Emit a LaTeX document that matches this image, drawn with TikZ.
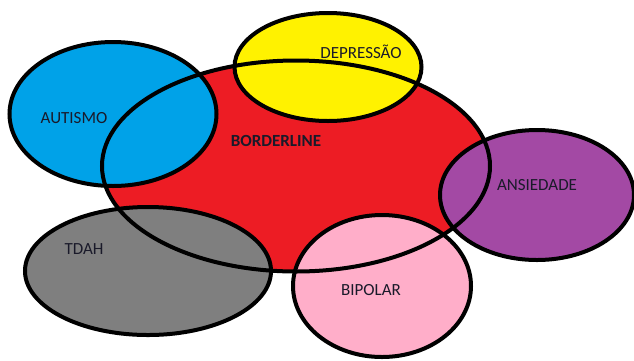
\documentclass[tikz,border=0pt]{standalone}
\usepackage{fontspec}
\setmainfont{Carlito}
\usetikzlibrary{shapes.geometric}
\definecolor{cred}{HTML}{ED1C24}
\definecolor{cblue}{HTML}{00A2E8}
\definecolor{cyellow}{HTML}{FFF200}
\definecolor{cpurple}{HTML}{A349A4}
\definecolor{cgray}{HTML}{7F7F7F}
\definecolor{cpink}{HTML}{FFAEC9}
\definecolor{ctext}{HTML}{1A1A2A}
\tikzset{
  blob/.style={ellipse, inner sep=0pt, line width=4pt},
  lbl/.style={font=\fontsize{17}{20}\selectfont, text=ctext, inner sep=0pt},
}
\begin{document}
\begin{tikzpicture}[x=1pt,y=-1pt]
\useasboundingbox (0,0) rectangle (634,360);
% red fill
\node[blob, fill=cred, minimum width=388pt, minimum height=211pt] (bord) at (296,166) {};
% other circles
\node[blob, fill=cblue, draw=black, minimum width=207pt, minimum height=144pt] (aut) at (113,114) {};
\node[blob, fill=cyellow, draw=black, minimum width=187pt, minimum height=108pt] (dep) at (328,67) {};
\node[blob, fill=cpurple, draw=black, minimum width=194pt, minimum height=130pt] (ans) at (537,195) {};
\node[blob, fill=cgray, draw=black, minimum width=246pt, minimum height=128pt] (tdah) at (148,271) {};
\node[blob, fill=cpink, draw=black, minimum width=178pt, minimum height=142pt] (bip) at (382,286) {};
% red outline on top
\node[blob, draw=black, minimum width=388pt, minimum height=211pt] (bordline) at (bord.center) {};
% labels
\node[lbl] (taut) at (74,118) {AUTISMO};
\node[lbl, font=\fontsize{17}{20}\selectfont\bfseries] (tbord) at (276,141) {BORDERLINE};
\node[lbl] (tdep) at (361,52) {DEPRESSÃO};
\node[lbl] (tans) at (537,185) {ANSIEDADE};
\node[lbl] (ttdah) at (84,249) {TDAH};
\node[lbl] (tbip) at (371,290) {BIPOLAR};
\end{tikzpicture}
\end{document}
